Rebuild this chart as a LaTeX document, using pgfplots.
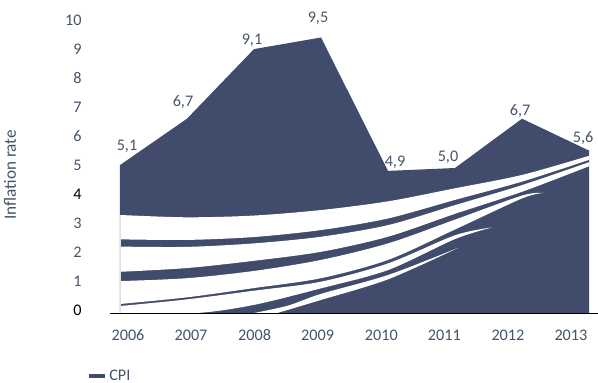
\documentclass[border=0pt]{standalone}
\usepackage{fontspec}
\setmainfont{Carlito}
\usepackage{pgfplots}
\pgfplotsset{compat=1.18}
\usepgfplotslibrary{fillbetween}
\usepackage{pgfplotstable}
\definecolor{cpi}{RGB}{65,75,107}
\definecolor{txt}{RGB}{68,84,106}
\newcommand\fs{\fontsize{16.2}{19}\selectfont}
\newcommand\fl{\fontsize{17.2}{20}\selectfont}

% x = year - 2006
\pgfplotstableread{
x y dx dy
0 5.1 7 19
1 6.7 -4 17
2 9.1 -2 9
3 9.5 -3 19
4 4.9 7 9
5 5.0 -7 11
6 6.7 -2 8
7 5.6 -6 13
}\cpidata

\begin{document}
\begin{tikzpicture}
\begin{axis}[
  set layers=axis on top,
  at={(110pt,70pt)}, anchor=south west,
  width=488pt, height=290pt, scale only axis,
  xmin=-0.149, xmax=7.134, ymin=0, ymax=10,
  axis x line*=bottom, axis y line*=left,
  x axis line style={black, line width=0.8pt, -},
  y axis line style={draw=none},
  major tick length=0pt,
  xtick={0.12,1.06,2.01,2.95,3.90,4.84,5.79,6.73},
  xticklabels={2006,2007,2008,2009,2010,2011,2012,2013},
  ytick={0,1,2,3,4,5,6,7,8,9,10},
  yticklabels={\textcolor{black}{0},1,2,3,\textcolor{black}{4},5,6,7,8,9,10},
  xticklabel style={font=\fs, text=txt, yshift=-13pt},
  yticklabel style={font=\fs, text=txt, xshift=-25pt, yshift=3pt},
  ylabel={Inflation rate},
  ylabel style={at={(axis description cs:-0.205,0.476)}, anchor=center, font=\fl, text=txt},
  legend style={at={(axis description cs:-0.047,-0.216)}, anchor=west, draw=none, fill=none, inner sep=0pt, font=\fs, text=txt},
  legend image code/.code={\draw[line width=4pt, cpi] (0pt,0pt) -- (16pt,0pt);},
]
\addplot[fill=cpi, draw=none, on layer=axis background] table[x=x, y=y] {\cpidata} \closedcycle;
\addlegendentry{CPI}

% white decorative bands
\addplot[draw=none, smooth, name path=w1u, forget plot] coordinates {(0,3.38) (1,3.30) (2,3.36) (3,3.55) (4,3.85) (5,4.30) (6,4.76) (7,5.42)};
\addplot[draw=none, smooth, name path=w1l, forget plot] coordinates {(0,2.54) (1,2.52) (2,2.62) (3,2.86) (4,3.26) (5,3.90) (6,4.53) (7,5.28)};
\addplot[white, forget plot] fill between[of=w1u and w1l];

\addplot[draw=none, smooth, name path=w2u, forget plot] coordinates {(0,2.29) (1,2.28) (2,2.40) (3,2.63) (4,3.03) (5,3.72) (6,4.41) (7,5.20)};
\addplot[draw=none, smooth, name path=w2l, forget plot] coordinates {(0,1.42) (1,1.55) (2,1.80) (3,2.11) (4,2.63) (5,3.42) (6,4.18) (7,5.06)};
\addplot[white, forget plot] fill between[of=w2u and w2l];

\addplot[draw=none, smooth, name path=w3u, forget plot] coordinates {(0,1.10) (1,1.20) (2,1.45) (3,1.83) (4,2.40) (5,3.22) (6,4.05) (6.32,4.14)};
\addplot[draw=none, smooth, name path=w3l, forget plot] coordinates {(0,0.31) (1,0.54) (2,0.86) (3,1.20) (4,1.83) (5,2.88) (6,3.95) (6.32,4.14)};
\addplot[white, forget plot] fill between[of=w3u and w3l];

\addplot[draw=none, smooth, name path=w4u, forget plot] coordinates {(0,0.24) (1,0.47) (2,0.77) (3,1.08) (4,1.71) (5,2.68) (5.55,2.95)};
\addplot[draw=none, smooth, name path=w4l, forget plot] coordinates {(0,0) (1.15,0) (2,0.28) (3,0.85) (4,1.48) (5,2.55) (5.55,2.95)};
\addplot[white, forget plot] fill between[of=w4u and w4l];

\addplot[draw=none, smooth, name path=w5u, forget plot] coordinates {(2.0,0) (2.5,0.25) (3,0.66) (4,1.31) (5.05,2.25)};
\addplot[draw=none, smooth, name path=w5l, forget plot] coordinates {(2.35,0) (3,0.45) (4,1.16) (5.05,2.25)};
\addplot[white, forget plot] fill between[of=w5u and w5l];

\addplot[gray!25, line width=0.4pt, forget plot] coordinates {(0,0) (0,3.38)};

% data labels
\addplot[draw=none, mark=none, forget plot,
  visualization depends on={\thisrow{dx}\as\ldx},
  visualization depends on={\thisrow{dy}\as\ldy},
  point meta=explicit,
  nodes near coords={\pgfmathprintnumber[fixed,fixed zerofill,precision=1,use comma,assume math mode=true]{\pgfplotspointmeta}},
  nodes near coords style={anchor=center, xshift=\ldx pt, yshift=\ldy pt, font=\fs, text=txt},
] table[x=x, y=y, meta=y] {\cpidata};
\end{axis}
\pgfresetboundingbox
\useasboundingbox (0,0) rectangle (598pt,383pt);
\end{tikzpicture}
\end{document}
